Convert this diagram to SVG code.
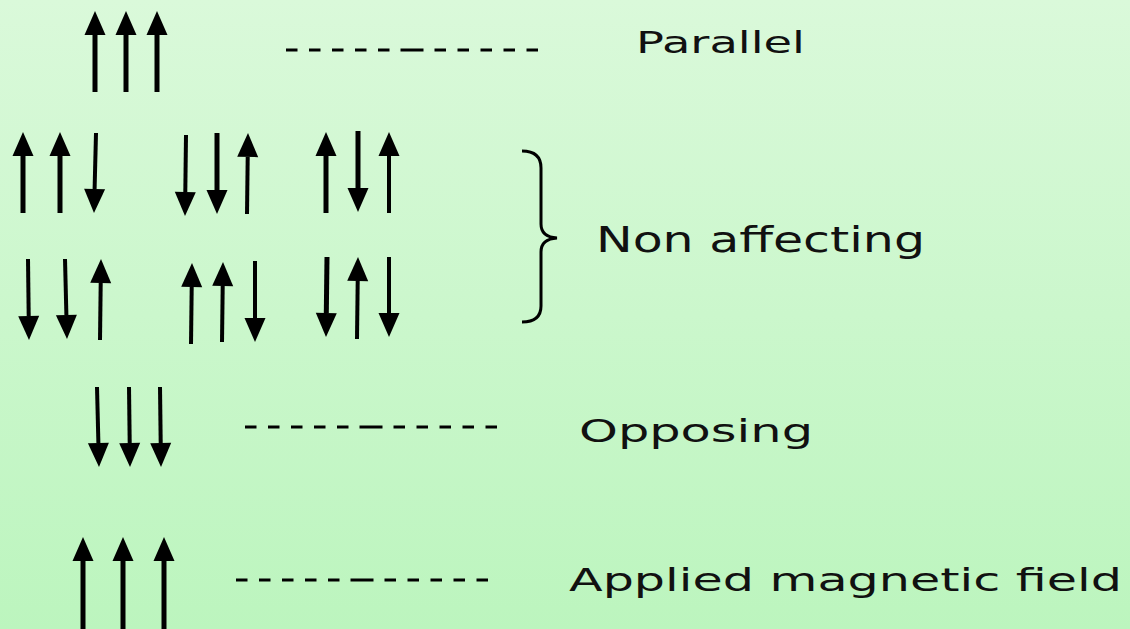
<svg xmlns="http://www.w3.org/2000/svg" width="1130" height="629" viewBox="0 0 1130 629">
<defs>
<linearGradient id="bg" x1="0" y1="0" x2="0" y2="1">
<stop offset="0" stop-color="#daf9da"/>
<stop offset="1" stop-color="#bcf5be"/>
</linearGradient>
<marker id="head" markerUnits="userSpaceOnUse" markerWidth="26" markerHeight="22" refX="0" refY="10.5" orient="auto" overflow="visible">
<path d="M0,0 L24,10.5 L0,21 Z" fill="#000"/>
</marker>
<style>
.ar{stroke:#000;stroke-width:5;fill:none;marker-end:url(#head)}
.th{stroke-width:4}
.dash{stroke:#000;stroke-width:3;fill:none}
.lbl{font-family:"DejaVu Sans","Liberation Sans",sans-serif;fill:#111}
.brace{stroke:#000;stroke-width:3;fill:none}
</style>
</defs>
<rect x="0" y="0" width="1130" height="629" fill="url(#bg)"/>

<g id="connectors">
<g id="parallel-arrows">
<line class="ar" x1="95" y1="92" x2="95" y2="35"/>
<line class="ar" x1="126" y1="92" x2="126" y2="35"/>
<line class="ar" x1="157" y1="92" x2="157" y2="35"/>
</g>
<g id="nonaffecting-row1">
<line class="ar" x1="23" y1="213" x2="23" y2="156"/>
<line class="ar" x1="60" y1="213" x2="60" y2="156"/>
<line class="ar th" x1="96" y1="133" x2="94.6" y2="189"/>
<line class="ar th" x1="186" y1="135" x2="185.3" y2="192"/>
<line class="ar" x1="217" y1="133" x2="217" y2="190"/>
<line class="ar th" x1="247" y1="214" x2="247.7" y2="157"/>
<line class="ar" x1="326" y1="213" x2="326" y2="156"/>
<line class="ar" x1="358" y1="131" x2="358" y2="188"/>
<line class="ar th" x1="389" y1="213" x2="389" y2="156"/>
</g>
<g id="nonaffecting-row2">
<line class="ar th" x1="28" y1="259" x2="28.7" y2="316"/>
<line class="ar th" x1="65" y1="259" x2="66.4" y2="315"/>
<line class="ar th" x1="100" y1="340" x2="100.7" y2="283"/>
<line class="ar th" x1="191" y1="344" x2="191.7" y2="287"/>
<line class="ar th" x1="222" y1="342" x2="222.7" y2="286"/>
<line class="ar th" x1="255" y1="261" x2="255" y2="318"/>
<line class="ar" x1="327" y1="257" x2="326.3" y2="313"/>
<line class="ar th" x1="357" y1="339" x2="357.7" y2="281"/>
<line class="ar th" x1="389" y1="257" x2="389" y2="313"/>
</g>
<g id="opposing-arrows">
<line class="ar th" x1="97" y1="387" x2="98.4" y2="443"/>
<line class="ar th" x1="129" y1="387" x2="129.7" y2="443"/>
<line class="ar th" x1="160" y1="387" x2="160.7" y2="443"/>
</g>
<g id="field-arrows">
<line class="ar" x1="83" y1="632" x2="83" y2="561"/>
<line class="ar" x1="123" y1="632" x2="123" y2="561"/>
<line class="ar" x1="164" y1="632" x2="164" y2="561"/>
</g>
<g id="dashes">
<path class="dash" d="M286 50 h11.5 m11.5 0 h11.5 m11.5 0 h11.5 m11.5 0 h11.5 m11.5 0 h11.5 m11 0 h23 m11 0 h11.5 m11.5 0 h11.5 m11.5 0 h11.5 m11.5 0 h11.5 m11.5 0 h11.5"/>
<path class="dash" d="M245 427 h11.5 m11.5 0 h11.5 m11.5 0 h11.5 m11.5 0 h11.5 m11.5 0 h11.5 m11 0 h23 m11 0 h11.5 m11.5 0 h11.5 m11.5 0 h11.5 m11.5 0 h11.5 m11.5 0 h11.5"/>
<path class="dash" d="M236 580 h11.5 m11.5 0 h11.5 m11.5 0 h11.5 m11.5 0 h11.5 m11.5 0 h11.5 m11 0 h23 m11 0 h11.5 m11.5 0 h11.5 m11.5 0 h11.5 m11.5 0 h11.5 m11.5 0 h11.5"/>
</g>
<path id="brace" class="brace" d="M522 151 Q541 151 541 168 L541 224 Q541 237 557 238 Q541 239 541 252 L541 306 Q541 322 522 322"/>
</g>

<g id="label-parallel"><text class="lbl" x="636" y="53" font-size="30" textLength="169" lengthAdjust="spacingAndGlyphs">Parallel</text></g>
<g id="label-nonaffecting"><text class="lbl" x="596" y="252" font-size="35" textLength="329" lengthAdjust="spacingAndGlyphs">Non affecting</text></g>
<g id="label-opposing"><text class="lbl" x="579" y="442" font-size="32" textLength="234" lengthAdjust="spacingAndGlyphs">Opposing</text></g>
<g id="label-field"><text class="lbl" x="569" y="591" font-size="32" textLength="553" lengthAdjust="spacingAndGlyphs">Applied magnetic field</text></g>
</svg>
